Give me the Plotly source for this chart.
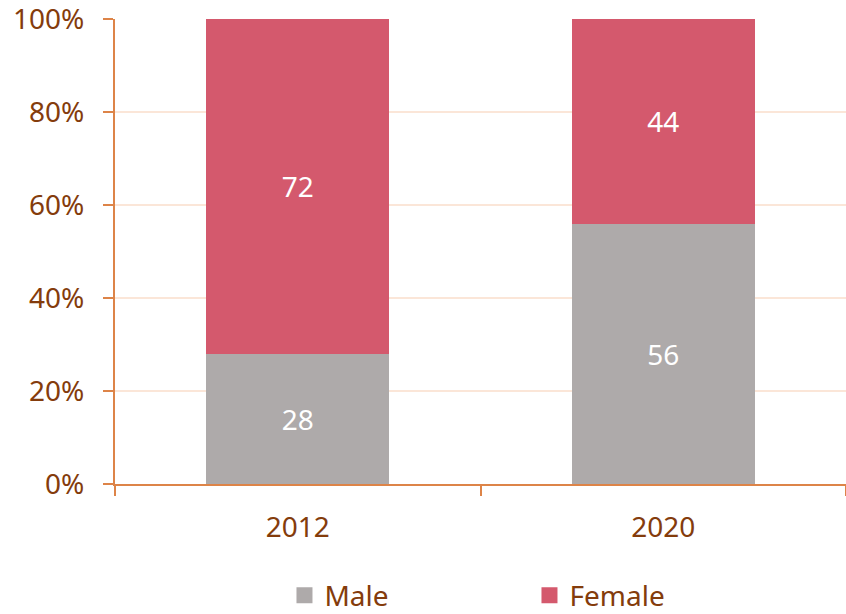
import plotly.graph_objects as go

years = ["2012", "2020"]
male = [28, 56]
female = [72, 44]
series_names = ["Male", "Female"]
series_colors = ["#aeaaaa", "#d4596d"]
tick_vals = [0, 20, 40, 60, 80, 100]
tick_text = ["0%", "20%", "40%", "60%", "80%", "100%"]

TXT = "#843c0c"
AX = "#dd8448"
GRID = "#fbe6d8"
FONT = "Noto Sans"
FS = 28

fig = go.Figure()
for vals, name, col in [(male, series_names[0], series_colors[0]),
                        (female, series_names[1], series_colors[1])]:
    fig.add_trace(go.Bar(x=years, y=vals, name=name, marker_color=col,
                         marker_line_width=0, text=[str(v) for v in vals],
                         textposition="inside", insidetextanchor="middle",
                         textfont=dict(color="white", size=FS, family=FONT),
                         showlegend=False))
# legend entries with larger square symbols
for name, col in zip(series_names, series_colors):
    fig.add_trace(go.Scatter(x=[years[0]], y=[None], mode="markers", name=name,
                             marker=dict(symbol="square", size=16, color=col),
                             showlegend=True, hoverinfo="skip"))

fig.update_layout(
    barmode="stack", bargap=0.5,
    width=846, height=614,
    margin=dict(l=115, r=0, t=19, b=130),
    plot_bgcolor="white", paper_bgcolor="white",
    font=dict(family=FONT, color=TXT, size=FS),
    showlegend=True,
    legend=dict(orientation="h", x=0.567, xanchor="center",
                yref="container", y=0.03, yanchor="middle",
                font=dict(size=FS, color=TXT), entrywidth=200, traceorder="normal"),
    uniformtext=dict(minsize=10, mode=False),
)
fig.update_xaxes(type="category", showline=True, linecolor=AX, linewidth=2,
                 ticks="outside", tickson="boundaries", ticklen=10, tickcolor=AX, tickwidth=2,
                 tickfont=dict(size=FS, color=TXT), showgrid=False, automargin=False,
                 ticklabelstandoff=17, ticklabeloverflow="allow")
fig.update_yaxes(range=[0, 100], tickvals=tick_vals, ticktext=tick_text,
                 showline=True, linecolor=AX, linewidth=2,
                 ticks="outside", ticklen=10, tickcolor=AX, tickwidth=2,
                 showgrid=True, gridcolor=GRID, gridwidth=2, zeroline=False,
                 tickfont=dict(size=FS, color=TXT), automargin=False,
                 ticklabelstandoff=13, ticklabeloverflow="allow")

fig.write_html("out.html", config={"displayModeBar": False},
               post_script="document.body.style.margin='0';document.body.style.overflow='hidden';")
